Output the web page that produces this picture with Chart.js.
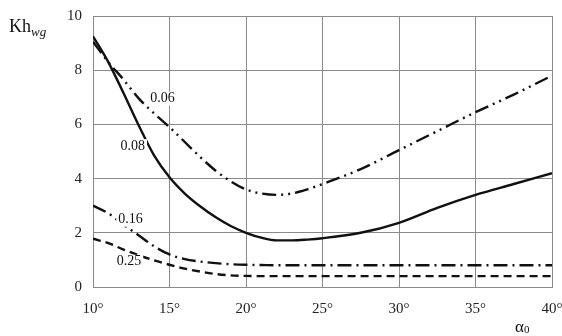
<!DOCTYPE html>
<html>
<head>
<meta charset="utf-8">
<script src="https://cdn.jsdelivr.net/npm/chart.js@4/dist/chart.umd.min.js"></script>
<style>
  html, body { margin: 0; padding: 0; background: #fff; }
  #wrap { width: 562px; height: 336px; }
</style>
</head>
<body>
<div id="wrap"><canvas id="chart"></canvas></div>
<script>
// angle alpha0, degrees
const angles = [10, 11, 12, 13, 14, 15, 16, 17, 18, 19, 20, 21, 22, 23, 24, 25, 27.5, 30, 32.5, 35, 37.5, 40];

// Kh_wg per curve
const kh006 = [9.05, 8.3, 7.65, 6.95, 6.4, 5.9, 5.35, 4.8, 4.3, 3.9, 3.6, 3.45, 3.4, 3.45, 3.6, 3.8, 4.35, 5.05, 5.75, 6.45, 7.1, 7.8];
const kh008 = [9.25, 8.3, 7.15, 5.95, 4.85, 4.05, 3.45, 2.98, 2.58, 2.25, 2.0, 1.82, 1.72, 1.72, 1.75, 1.8, 2.0, 2.37, 2.92, 3.4, 3.8, 4.2];
const kh016 = [3.0, 2.72, 2.3, 1.9, 1.5, 1.2, 1.03, 0.94, 0.88, 0.84, 0.82, 0.81, 0.8, 0.8, 0.8, 0.8, 0.8, 0.8, 0.8, 0.8, 0.8, 0.8];
const kh025 = [1.78, 1.62, 1.38, 1.17, 0.98, 0.82, 0.68, 0.57, 0.48, 0.43, 0.41, 0.4, 0.4, 0.4, 0.4, 0.4, 0.4, 0.4, 0.4, 0.4, 0.4, 0.4];

const curveNames = ['0.06', '0.08', '0.16', '0.25'];
// where each curve name sits, in data units [angle, Kh]
const curveLabelPos = [[14.55, 6.95], [12.6, 5.2], [12.45, 2.48], [12.35, 0.93]];

const xTicks = [10, 15, 20, 25, 30, 35, 40];
const yTicks = [0, 2, 4, 6, 8, 10];

const serif = '"Liberation Serif", "Times New Roman", serif';

function toPoints(vals) {
    return angles.map((a, i) => ({ x: a, y: vals[i] }));
}

function line(label, vals, dash) {
    return {
        label: label,
        data: toPoints(vals),
        borderColor: '#111',
        borderWidth: 2.4,
        borderDash: dash,
        pointRadius: 0,
        fill: false,
        cubicInterpolationMode: 'monotone'
    };
}

// curve names and axis titles
const annotations = {
    id: 'annotations',
    afterDatasetsDraw(chart) {
        const ctx = chart.ctx;
        const xs = chart.scales.x, ys = chart.scales.y;
        ctx.save();
        ctx.textAlign = 'center';
        ctx.textBaseline = 'middle';
        ctx.font = '14px ' + serif;
        curveNames.forEach((name, i) => {
            const px = xs.getPixelForValue(curveLabelPos[i][0]);
            const py = ys.getPixelForValue(curveLabelPos[i][1]);
            const w = ctx.measureText(name).width;
            ctx.fillStyle = '#fff';
            ctx.fillRect(px - w / 2 - 2, py - 7, w + 4, 14);
            ctx.fillStyle = '#111';
            ctx.fillText(name, px, py);
        });

        // y title Kh with subscript wg
        ctx.fillStyle = '#111';
        ctx.textAlign = 'left';
        ctx.textBaseline = 'alphabetic';
        ctx.font = '18px ' + serif;
        ctx.fillText('Kh', 9, 32);
        const khW = ctx.measureText('Kh').width;
        ctx.font = 'italic 13px ' + serif;
        ctx.fillText('wg', 9 + khW, 36);

        // x title alpha with subscript 0
        ctx.font = '17px ' + serif;
        ctx.fillText('α', 515, 332);
        const aW = ctx.measureText('α').width;
        ctx.font = '11px ' + serif;
        ctx.fillText('0', 515 + aW, 333);
        ctx.restore();
    }
};

const chart = new Chart(document.getElementById('chart'), {
    type: 'line',
    data: {
        datasets: [
            line(curveNames[0], kh006, [14, 5, 2, 5, 2, 5]),
            line(curveNames[1], kh008, []),
            line(curveNames[2], kh016, [14, 5, 2, 5]),
            line(curveNames[3], kh025, [8, 5])
        ]
    },
    options: {
        responsive: true,
        maintainAspectRatio: false,
        animation: false,
        layout: { padding: { top: 16, right: 10, left: 0, bottom: 0 } },
        plugins: {
            legend: { display: false },
            tooltip: { enabled: false }
        },
        scales: {
            x: {
                type: 'linear',
                min: 10,
                max: 40,
                afterBuildTicks: (s) => { s.ticks = xTicks.map(v => ({ value: v })); },
                afterFit: (s) => { s.height = 49; s.paddingLeft = 0; s.paddingRight = 0; },
                grid: { color: '#8a8a8a', lineWidth: 1, drawTicks: false },
                border: { color: '#8a8a8a' },
                ticks: {
                    padding: 13,
                    color: '#222',
                    font: { family: serif, size: 15 },
                    callback: (v) => v + '°'
                }
            },
            y: {
                min: 0,
                max: 10,
                afterBuildTicks: (s) => { s.ticks = yTicks.map(v => ({ value: v })); },
                afterFit: (s) => { s.width = 93; s.paddingTop = 0; s.paddingBottom = 0; },
                grid: { color: '#8a8a8a', lineWidth: 1, drawTicks: false },
                border: { color: '#8a8a8a' },
                ticks: {
                    padding: 11,
                    color: '#222',
                    font: { family: serif, size: 15 }
                }
            }
        }
    },
    plugins: [annotations]
});
</script>
</body>
</html>
